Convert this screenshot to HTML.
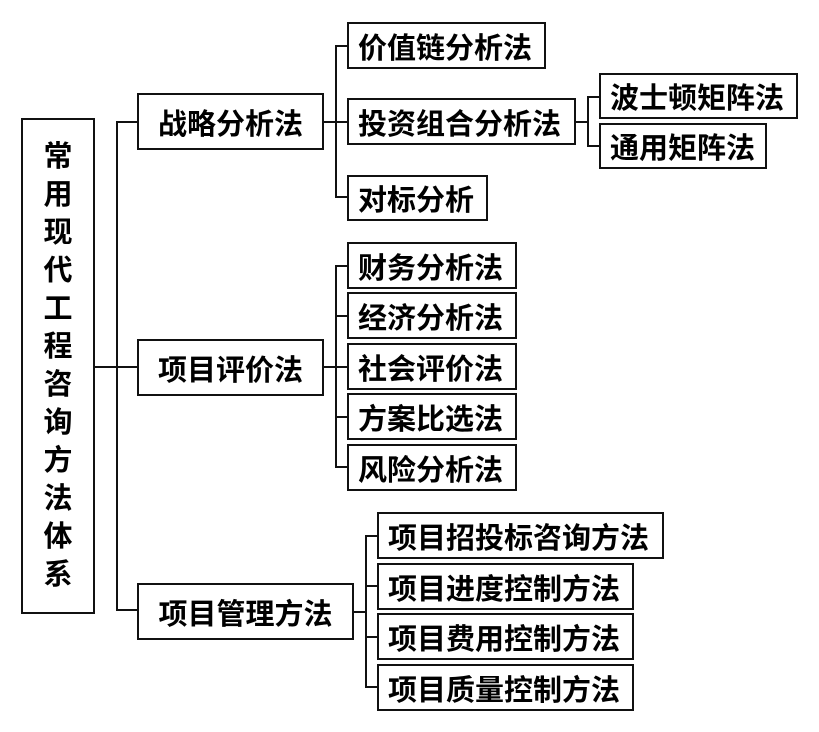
<!DOCTYPE html>
<html><head><meta charset="utf-8"><style>
body{margin:0;background:#fff;width:819px;height:732px;position:relative;overflow:hidden;font-family:"Liberation Sans","Noto Sans CJK SC",sans-serif;}
.b{position:absolute;border:2px solid #111;box-sizing:border-box;display:flex;align-items:center;justify-content:flex-start;padding-left:9px;font-weight:bold;font-size:29px;color:#000;white-space:nowrap;background:#fff;}
.c{justify-content:center;padding-left:0;}
.l{position:absolute;background:#111;}
.root{flex-direction:column;font-size:29px;line-height:38px;justify-content:center;padding-left:0;}
</style></head><body>
<div class="b root" style="left:21px;top:118px;width:74px;height:496px;"><span>常</span><span>用</span><span>现</span><span>代</span><span>工</span><span>程</span><span>咨</span><span>询</span><span>方</span><span>法</span><span>体</span><span>系</span></div>
<div class="l" style="left:95px;top:366px;width:22px;height:2px"></div>
<div class="l" style="left:116px;top:121px;width:2px;height:490px"></div>
<div class="l" style="left:116px;top:121px;width:21px;height:2px"></div>
<div class="l" style="left:116px;top:366px;width:21px;height:2px"></div>
<div class="l" style="left:116px;top:609px;width:21px;height:2px"></div>

<div class="b c" style="left:137px;top:93px;width:187px;height:57px;">战略分析法</div>
<div class="b c" style="left:137px;top:339px;width:187px;height:57px;">项目评价法</div>
<div class="b c" style="left:137px;top:583px;width:217px;height:57px;">项目管理方法</div>

<div class="l" style="left:324px;top:121px;width:12px;height:2px"></div>
<div class="l" style="left:335px;top:45px;width:2px;height:153px"></div>
<div class="l" style="left:335px;top:45px;width:12px;height:2px"></div>
<div class="l" style="left:335px;top:121px;width:12px;height:2px"></div>
<div class="l" style="left:335px;top:196px;width:12px;height:2px"></div>
<div class="b" style="left:347px;top:22px;width:199px;height:47px;">价值链分析法</div>
<div class="b" style="left:347px;top:98px;width:229px;height:47px;">投资组合分析法</div>
<div class="b" style="left:347px;top:175px;width:141px;height:46px;">对标分析</div>

<div class="l" style="left:576px;top:121px;width:12px;height:2px"></div>
<div class="l" style="left:587px;top:96px;width:2px;height:50px"></div>
<div class="l" style="left:587px;top:96px;width:12px;height:2px"></div>
<div class="l" style="left:587px;top:145px;width:12px;height:2px"></div>
<div class="b" style="left:599px;top:73px;width:199px;height:46px;">波士顿矩阵法</div>
<div class="b" style="left:599px;top:123px;width:168px;height:46px;">通用矩阵法</div>

<div class="l" style="left:324px;top:366px;width:12px;height:2px"></div>
<div class="l" style="left:335px;top:265px;width:2px;height:203px"></div>
<div class="l" style="left:335px;top:265px;width:12px;height:2px"></div>
<div class="l" style="left:335px;top:315px;width:12px;height:2px"></div>
<div class="l" style="left:335px;top:366px;width:12px;height:2px"></div>
<div class="l" style="left:335px;top:416px;width:12px;height:2px"></div>
<div class="l" style="left:335px;top:466px;width:12px;height:2px"></div>
<div class="b" style="left:347px;top:242px;width:170px;height:47px;">财务分析法</div>
<div class="b" style="left:347px;top:292px;width:170px;height:47px;">经济分析法</div>
<div class="b" style="left:347px;top:343px;width:170px;height:47px;">社会评价法</div>
<div class="b" style="left:347px;top:393px;width:170px;height:47px;">方案比选法</div>
<div class="b" style="left:347px;top:444px;width:170px;height:47px;">风险分析法</div>

<div class="l" style="left:354px;top:611px;width:12px;height:2px"></div>
<div class="l" style="left:365px;top:535px;width:2px;height:152px"></div>
<div class="l" style="left:365px;top:535px;width:12px;height:2px"></div>
<div class="l" style="left:365px;top:585px;width:12px;height:2px"></div>
<div class="l" style="left:365px;top:636px;width:12px;height:2px"></div>
<div class="l" style="left:365px;top:686px;width:12px;height:2px"></div>
<div class="b" style="left:377px;top:512px;width:287px;height:47px;">项目招投标咨询方法</div>
<div class="b" style="left:377px;top:563px;width:257px;height:47px;">项目进度控制方法</div>
<div class="b" style="left:377px;top:613px;width:257px;height:47px;">项目费用控制方法</div>
<div class="b" style="left:377px;top:664px;width:257px;height:47px;">项目质量控制方法</div>
</body></html>
